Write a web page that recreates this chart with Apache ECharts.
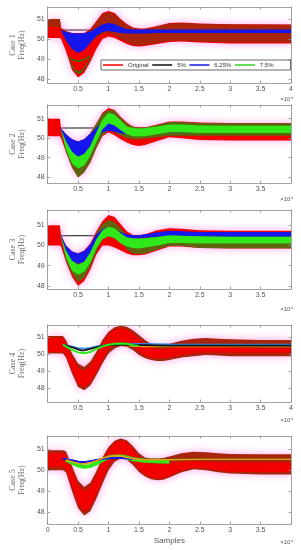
<!DOCTYPE html>
<html><head><meta charset="utf-8">
<script src="https://cdn.jsdelivr.net/npm/echarts@6/dist/echarts.min.js"></script>
<style>html,body{margin:0;padding:0;background:#fff}#c{width:301px;height:550px}</style>
</head><body><div id="c"></div>
<script>
// ---------- DATA ----------
const xTickVals = [0, 5000, 10000, 15000, 20000, 25000, 30000, 35000, 40000];
const yTickVals = [48, 49, 50, 51];
const legendNames = ['Original', '5%', '6.25%', '7.5%'];

const xsA = [0, 2000, 2200, 3000, 4000, 5000, 6000, 7000, 8000, 9000, 10000, 11000, 12000, 13000, 14000, 15000, 16000, 18000, 20000, 22000, 25000, 30000, 40000];
const xsB = [0, 2500, 3000, 4000, 5000, 6000, 7000, 8000, 9000, 10000, 11000, 12000, 13000, 14000, 15000, 16000, 17000, 18000, 19000, 20000, 22000, 24000, 26000, 28000, 30000, 35000, 40000];

// Case 1
const c1RedHi  = [51.0, 51.0, 50.55, 50.4, 50.3, 50.3, 50.3, 50.5, 50.9, 51.3, 51.4, 51.3, 51.0, 50.75, 50.58, 50.53, 50.53, 50.65, 50.8, 50.82, 50.78, 50.74, 50.73];
const c1RedLo  = [50.05, 50.05, 50.0, 49.4, 48.45, 48.08, 48.3, 48.85, 49.5, 50.0, 50.12, 50.05, 49.9, 49.75, 49.65, 49.62, 49.65, 49.75, 49.85, 49.87, 49.82, 49.78, 49.78];
const c1DarkHi = [51.0, 51.0, 50.55, 50.4, 50.25, 50.2, 50.25, 50.45, 50.85, 51.25, 51.35, 51.25, 50.95, 50.7, 50.55, 50.5, 50.5, 50.62, 50.77, 50.8, 50.75, 50.72, 50.71];
const c1DarkLo = [50.6, 50.6, 50.5, 49.95, 49.5, 49.4, 49.5, 49.8, 50.05, 50.25, 50.3, 50.2, 50.0, 49.85, 49.72, 49.68, 49.7, 49.8, 49.9, 49.92, 49.88, 49.84, 49.83];
const c1BlueHi = [50.45, 50.45, 50.45, 50.35, 50.3, 50.28, 50.3, 50.38, 50.55, 50.72, 50.8, 50.75, 50.6, 50.5, 50.47, 50.47, 50.47, 50.47, 50.47, 50.47, 50.47, 50.47, 50.47];
const c1BlueLo = [50.45, 50.45, 50.42, 49.95, 49.5, 49.3, 49.45, 49.8, 50.15, 50.35, 50.4, 50.35, 50.3, 50.28, 50.28, 50.28, 50.28, 50.3, 50.3, 50.3, 50.3, 50.3, 50.3];
const c1GxA = [3500, 4000, 4500, 5000, 5500, 6000, 6500, 7000];
const c1GrnAHi = [49.05, 48.72, 48.48, 48.38, 48.42, 48.58, 48.82, 49.12];
const c1GrnALo = [48.95, 48.6, 48.36, 48.26, 48.3, 48.46, 48.7, 49.0];
const c1GxB = [3500, 4000, 5000, 6000, 7000];
const c1GrnBHi = [49.15, 49.0, 48.93, 49.0, 49.2];
const c1GrnBLo = [49.07, 48.92, 48.85, 48.92, 49.12];
const c1BlackX = [2000, 40000];
const c1Black = [50.45, 50.45];

// Case 2
const c2RedHi  = [51.0, 51.0, 50.5, 50.2, 49.95, 49.83, 49.95, 50.25, 50.75, 51.3, 51.55, 51.45, 51.1, 50.8, 50.6, 50.55, 50.55, 50.7, 50.85, 50.85, 50.8, 50.78, 50.78];
const c2RedLo  = [50.1, 50.1, 50.0, 49.3, 48.5, 47.98, 48.25, 48.75, 49.5, 50.1, 50.3, 50.15, 49.95, 49.78, 49.65, 49.6, 49.65, 49.85, 50.05, 50.0, 49.9, 49.88, 49.88];
const c2OlvHi  = [51.0, 51.0, 50.5, 50.2, 49.95, 49.83, 49.95, 50.25, 50.75, 51.25, 51.45, 51.4, 51.05, 50.75, 50.58, 50.53, 50.53, 50.68, 50.83, 50.83, 50.78, 50.76, 50.76];
const c2OlvLo  = [51.0, 51.0, 50.45, 49.3, 48.5, 47.98, 48.25, 48.75, 49.5, 50.15, 50.4, 50.3, 50.15, 50.0, 49.95, 49.95, 49.98, 50.05, 50.12, 50.12, 50.12, 50.12, 50.12];
const c2BlueHi = [50.5, 50.5, 50.5, 50.2, 49.95, 49.83, 49.95, 50.22, 50.55, 50.78, 50.86, 50.8, 50.6, 50.5, 50.42, 50.4, 50.4, 50.45, 50.5, 50.5, 50.45, 50.45, 50.45];
const c2BlueLo = [50.5, 50.5, 50.42, 49.7, 49.2, 49.05, 49.15, 49.5, 50.0, 50.3, 50.38, 50.33, 50.25, 50.2, 50.15, 50.15, 50.2, 50.25, 50.3, 50.3, 50.3, 50.3, 50.3];
const c2GrnHi  = [50.5, 50.5, 50.45, 49.85, 49.3, 49.05, 49.2, 49.6, 50.3, 50.95, 51.3, 51.2, 50.9, 50.6, 50.52, 50.5, 50.52, 50.6, 50.7, 50.7, 50.65, 50.64, 50.64];
const c2GrnLo  = [50.5, 50.5, 50.4, 49.45, 48.7, 48.45, 48.6, 49.1, 49.8, 50.45, 50.75, 50.65, 50.4, 50.2, 50.1, 50.08, 50.1, 50.2, 50.3, 50.3, 50.26, 50.26, 50.26];
const c2BlackX = [2000, 40000];
const c2Black = [50.52, 50.52];

// Case 3
const c3RedHi  = [51.0, 51.0, 50.5, 50.0, 49.7, 49.62, 49.75, 50.1, 50.7, 51.2, 51.5, 51.4, 51.05, 50.7, 50.52, 50.5, 50.55, 50.75, 50.85, 50.82, 50.75, 50.72, 50.72];
const c3RedLo  = [50.0, 50.0, 49.95, 49.2, 48.45, 48.0, 48.25, 48.8, 49.55, 50.0, 50.0, 49.9, 49.75, 49.6, 49.52, 49.52, 49.55, 49.75, 49.95, 49.95, 49.87, 49.85, 49.85];
const c3OlvHi  = [51.0, 51.0, 50.45, 49.95, 49.6, 49.5, 49.6, 50.0, 50.6, 51.05, 51.25, 51.15, 50.85, 50.5, 50.35, 50.35, 50.35, 50.5, 50.62, 50.6, 50.55, 50.55, 50.55];
const c3OlvLo  = [51.0, 51.0, 50.4, 49.3, 48.6, 48.2, 48.4, 48.95, 49.7, 50.3, 50.45, 50.4, 50.2, 49.8, 49.6, 49.58, 49.6, 49.8, 49.98, 49.97, 49.88, 49.86, 49.86];
const c3BlueHi = [50.5, 50.5, 50.5, 50.0, 49.7, 49.6, 49.72, 50.05, 50.55, 50.8, 50.9, 50.8, 50.65, 50.55, 50.5, 50.5, 50.55, 50.65, 50.72, 50.7, 50.67, 50.67, 50.67];
const c3BlueLo = [50.5, 50.5, 50.42, 49.7, 49.25, 49.1, 49.2, 49.55, 50.1, 50.45, 50.45, 50.4, 50.3, 50.3, 50.33, 50.35, 50.38, 50.43, 50.45, 50.45, 50.43, 50.43, 50.43];
const c3GrnHi  = [50.5, 50.5, 50.45, 49.75, 49.25, 49.05, 49.2, 49.65, 50.3, 50.75, 50.92, 50.85, 50.6, 50.4, 50.35, 50.34, 50.35, 50.42, 50.5, 50.48, 50.45, 50.43, 50.43];
const c3GrnLo  = [50.5, 50.5, 50.4, 49.4, 48.75, 48.55, 48.7, 49.15, 49.85, 50.3, 50.45, 50.35, 50.1, 49.95, 49.87, 49.85, 49.9, 50.0, 50.12, 50.12, 50.1, 50.1, 50.1];
const c3BlackX = [2000, 40000];
const c3Black = [50.48, 50.48];

// Case 4
const c4RedHi = [51.06, 51.06, 50.82, 50.04, 49.45, 49.25, 49.55, 50.14, 50.82, 51.31, 51.57, 51.65, 51.6, 51.4, 51.12, 50.82, 50.59, 50.47, 50.47, 50.6, 50.78, 50.9, 50.94, 50.9, 50.86, 50.82, 50.82];
const c4RedLo = [50.04, 50.04, 49.8, 48.86, 48.08, 47.88, 48.17, 48.76, 49.45, 50.04, 50.33, 50.47, 50.43, 50.24, 49.94, 49.75, 49.65, 49.6, 49.6, 49.65, 49.8, 49.88, 49.94, 49.92, 49.88, 49.88, 49.88];
const c4InHi  = [50.95, 50.95, 50.65, 49.85, 49.2, 49.0, 49.3, 49.9, 50.6, 51.15, 51.45, 51.52, 51.45, 51.2, 50.9, 50.6, 50.4, 50.3, 50.3, 50.35, 50.45, 50.5, 50.5, 50.45, 50.4, 50.35, 50.35];
const c4InLo  = [50.12, 50.12, 49.95, 49.05, 48.25, 48.05, 48.35, 48.95, 49.65, 50.3, 50.6, 50.75, 50.7, 50.5, 50.15, 49.9, 49.78, 49.75, 49.75, 49.8, 49.95, 50.05, 50.1, 50.1, 50.08, 50.08, 50.08];
const c4BlueX = [2500, 3000, 4000, 5000, 6000, 7000, 8000, 9000, 10000, 12000, 15000, 20000, 30000, 40000];
const c4Blue  = [50.55, 50.52, 50.45, 50.36, 50.32, 50.37, 50.45, 50.5, 50.53, 50.58, 50.6, 50.58, 50.56, 50.56];
const c4BlackX = [2500, 3000, 4000, 5000, 5500, 6000, 7000, 8000, 9000, 10000, 12000, 14000, 16000, 20000, 30000, 40000];
const c4Black  = [50.55, 50.5, 50.4, 50.28, 50.22, 50.22, 50.3, 50.4, 50.48, 50.52, 50.55, 50.53, 50.52, 50.5, 50.5, 50.5];
const c4GrnX = [2500, 3000, 4000, 5000, 6000, 7000, 8000, 9000, 10000, 11000, 12000, 13000, 14000, 15000];
const c4Grn  = [50.55, 50.45, 50.25, 50.1, 50.05, 50.12, 50.3, 50.45, 50.55, 50.6, 50.62, 50.6, 50.52, 50.48];
const c4OrgX = [11000, 12000, 13000, 14000, 16000, 20000, 30000, 40000];
const c4Org  = [50.55, 50.55, 50.5, 50.47, 50.45, 50.45, 50.45, 50.45];

// Case 5
const c5RedHi = [50.95, 50.95, 50.9, 50.2, 49.5, 49.2, 49.4, 49.95, 50.6, 51.1, 51.4, 51.5, 51.42, 51.15, 50.8, 50.6, 50.52, 50.52, 50.58, 50.65, 50.8, 50.87, 50.85, 50.8, 50.77, 50.75, 50.75];
const c5RedLo = [50.0, 50.0, 49.9, 49.0, 48.2, 47.85, 48.05, 48.65, 49.35, 50.0, 50.4, 50.55, 50.5, 50.25, 49.92, 49.7, 49.57, 49.52, 49.55, 49.65, 49.9, 50.05, 50.0, 49.9, 49.84, 49.8, 49.8];
const c5InHi  = [50.8, 50.8, 50.75, 50.0, 49.3, 49.0, 49.2, 49.75, 50.45, 50.95, 51.3, 51.42, 51.32, 51.0, 50.6, 50.35, 50.3, 50.3, 50.32, 50.35, 50.4, 50.42, 50.4, 50.38, 50.37, 50.37, 50.37];
const c5InLo  = [50.15, 50.15, 50.05, 49.2, 48.4, 48.02, 48.25, 48.85, 49.55, 50.2, 50.6, 50.7, 50.65, 50.4, 50.05, 49.8, 49.65, 49.6, 49.62, 49.72, 49.98, 50.12, 50.08, 49.98, 49.93, 49.92, 49.92];
const c5BlackX = [2500, 3000, 4000, 5000, 6000, 7000, 8000, 9000, 10000, 12000, 14000, 16000, 20000, 30000, 40000];
const c5Black  = [50.55, 50.53, 50.48, 50.42, 50.4, 50.43, 50.48, 50.52, 50.55, 50.57, 50.55, 50.53, 50.52, 50.52, 50.52];
const c5BlueX = [2500, 3000, 4000, 5000, 6000, 7000, 8000, 9000, 10000, 11000, 12000, 13000, 14000];
const c5Blue  = [50.55, 50.52, 50.46, 50.4, 50.38, 50.42, 50.48, 50.53, 50.56, 50.58, 50.58, 50.56, 50.53];
const c5GrnX = [3000, 4000, 5000, 6000, 7000, 8000, 9000, 10000, 11000, 12000, 13000, 14000, 15000, 16000, 18000, 20000];
const c5Grn  = [50.5, 50.35, 50.22, 50.16, 50.2, 50.32, 50.48, 50.6, 50.65, 50.65, 50.6, 50.52, 50.48, 50.45, 50.42, 50.4];
const c5OrgX = [3000, 4000, 5000, 6000, 7000, 8000, 9000, 10000, 11000, 12000, 13000, 14000, 15000, 16000, 18000, 20000, 25000, 30000, 40000];
const c5Org  = [50.5, 50.4, 50.32, 50.3, 50.35, 50.45, 50.57, 50.65, 50.68, 50.67, 50.6, 50.55, 50.52, 50.5, 50.5, 50.5, 50.52, 50.52, 50.52];

// ---------- STYLE / LAYOUT ----------
const COL = {red:'#f20000', dark:'#a8240a', olive:'#5e6410', blue:'#1515ee', green:'#2ee81a', dgreen:'#2f7a05', black:'#111', orange:'#e0a010', lblue:'#2a8cf0'};
const HALO = 'rgba(255,110,225,0.65)';
const panels = [
  {top:7,   height:76, yMin:47.8,  yMax:51.6,  showMax:true,  showZero:false},
  {top:105, height:78, yMin:47.7,  yMax:51.7,  showMax:false, showZero:false},
  {top:210, height:79, yMin:47.85, yMax:51.75, showMax:false, showZero:false},
  {top:325, height:77, yMin:47.2,  yMax:51.7,  showMax:true,  showZero:false},
  {top:436, height:88, yMin:47.45, yMax:51.62, showMax:false, showZero:true}
];
const expY = [99, 199, 309, 420, 542];

let zc = 2;
const series = [];
function band(g, name, xs, lo, hi, color, halo) {
  const style = {fill:color};
  if (halo) { style.shadowBlur = 9; style.shadowColor = HALO; }
  const s = {type:'custom', xAxisIndex:2*g, yAxisIndex:2*g, z:zc++, silent:true, clip:true, color:color,
    data: xs.map((x,i)=>[x, lo[i], hi[i]]),
    encode:{x:0, y:[1,2]},
    renderItem: function(params, api) {
      if (params.dataIndex !== 0) return null;
      const pts = [];
      for (let i = 0; i < xs.length; i++) pts.push(api.coord([xs[i], hi[i]]));
      for (let i = xs.length - 1; i >= 0; i--) pts.push(api.coord([xs[i], lo[i]]));
      const cs = params.coordSys;
      return {type:'polygon', shape:{points:pts}, style:style,
        clipPath:{type:'rect', shape:{x:cs.x, y:cs.y, width:cs.width, height:cs.height}}};
    }};
  if (name) s.name = name;
  series.push(s);
}
function curve(g, name, xs, ys, color, width) {
  const s = {type:'line', xAxisIndex:2*g, yAxisIndex:2*g, z:zc++, symbol:'none', silent:true, color:color,
    lineStyle:{width:width, color:color}, data: xs.map((x,i)=>[x, ys[i]])};
  if (name) s.name = name;
  series.push(s);
}

// Case 1
curve(0, '5%', c1BlackX, c1Black, COL.black, 1);
band(0, 'Original', xsA, c1RedLo, c1RedHi, COL.red, true);
band(0, null, xsA, c1DarkLo, c1DarkHi, COL.dark);
band(0, '6.25%', xsA, c1BlueLo, c1BlueHi, COL.blue);
band(0, '7.5%', c1GxA, c1GrnALo, c1GrnAHi, COL.dgreen);
band(0, null, c1GxB, c1GrnBLo, c1GrnBHi, COL.dgreen);
// Case 2
curve(1, null, c2BlackX, c2Black, COL.black, 1);
band(1, null, xsA, c2RedLo, c2RedHi, COL.red, true);
band(1, null, xsA, c2OlvLo, c2OlvHi, COL.olive);
band(1, null, xsA, c2BlueLo, c2BlueHi, COL.blue);
band(1, null, xsA, c2GrnLo, c2GrnHi, COL.green);
// Case 3
curve(2, null, c3BlackX, c3Black, COL.black, 1);
band(2, null, xsA, c3RedLo, c3RedHi, COL.red, true);
band(2, null, xsA, c3OlvLo, c3OlvHi, COL.olive);
band(2, null, xsA, c3BlueLo, c3BlueHi, COL.blue);
band(2, null, xsA, c3GrnLo, c3GrnHi, COL.green);
// Case 4
band(3, null, xsB, c4RedLo, c4RedHi, COL.dark, true);
band(3, null, xsB, c4InLo, c4InHi, COL.red);
curve(3, null, c4BlueX, c4Blue, COL.lblue, 1.5);
curve(3, null, c4OrgX, c4Org, COL.orange, 1.5);
curve(3, null, c4BlackX, c4Black, COL.black, 1.8);
curve(3, null, c4GrnX, c4Grn, COL.green, 2);
// Case 5
band(4, null, xsB, c5RedLo, c5RedHi, COL.dark, true);
band(4, null, xsB, c5InLo, c5InHi, COL.red);
curve(4, null, c5BlackX, c5Black, COL.black, 1.2);
curve(4, null, c5GrnX, c5Grn, COL.green, 4);
curve(4, null, c5BlueX, c5Blue, COL.blue, 2);
curve(4, null, c5OrgX, c5Org, COL.orange, 1.6);

const AX = {color:'#8c8c8c', width:0.8};
const grid = [], xAxis = [], yAxis = [], graphic = [];
panels.forEach((p, i) => {
  grid.push({left:34, right:10, top:p.top, height:p.height});
  const xl = xTickVals.filter(v => (v !== 0 || p.showZero) && (v !== 40000 || p.showMax));
  const common = {gridIndex:i, type:'value', min:0, max:40000, z:200, splitLine:{show:false},
    axisLine:{onZero:false, lineStyle:AX}, axisTick:{inside:true, length:2.5, customValues:xTickVals, lineStyle:AX}};
  xAxis.push(Object.assign({}, common, {position:'bottom',
    axisLabel:{customValues:xl, formatter:v => String(v/10000), fontSize:7, color:'#555', margin:3, fontFamily:'Liberation Sans'},
    name: i === 4 ? 'Samples' : '', nameLocation:'middle', nameGap:13,
    nameTextStyle:{fontSize:8, color:'#555', fontFamily:'Liberation Sans'}}));
  xAxis.push(Object.assign({}, common, {position:'top', axisLabel:{show:false}}));
  const ycommon = {gridIndex:i, type:'value', min:p.yMin, max:p.yMax, z:200, splitLine:{show:false},
    axisLine:{onZero:false, lineStyle:AX}, axisTick:{inside:true, length:2.5, customValues:yTickVals, lineStyle:AX}};
  yAxis.push(Object.assign({}, ycommon, {position:'left',
    axisLabel:{customValues:yTickVals, fontSize:7, color:'#555', margin:3, fontFamily:'Liberation Sans'},
    name:'Case ' + (i+1) + '\nFreq(Hz)', nameLocation:'middle', nameRotate:90, nameGap:9,
    nameTextStyle:{fontSize:8, color:'#666', fontFamily:'Liberation Serif', lineHeight:9}}));
  yAxis.push(Object.assign({}, ycommon, {position:'right', axisLabel:{show:false}}));
  graphic.push({type:'text', x:293, y:expY[i], z:300,
    style:{text:'×10⁴', fill:'#555', font:'6px "Liberation Sans", "DejaVu Sans"', align:'right', verticalAlign:'middle'}});
});

const option = {
  animation:false,
  backgroundColor:'#fff',
  grid, xAxis, yAxis, series, graphic,
  legend:{
    left:101, top:60, z:300, orient:'horizontal', selectedMode:false,
    itemWidth:20, itemHeight:1.5, itemGap:3.5, padding:[2,17,2,2],
    borderColor:'#444', borderWidth:0.8, backgroundColor:'#fff',
    textStyle:{fontSize:6, color:'#333', fontFamily:'Liberation Sans'},
    data:[
      {name:legendNames[0], icon:'rect', itemStyle:{color:COL.red}},
      {name:legendNames[1], icon:'rect', itemStyle:{color:COL.black}},
      {name:legendNames[2], icon:'rect', itemStyle:{color:COL.blue}},
      {name:legendNames[3], icon:'rect', itemStyle:{color:'#33cc22'}}
    ]
  }
};
const chart = echarts.init(document.getElementById('c'), null, {renderer:'canvas'});
chart.setOption(option);
</script></body></html>
